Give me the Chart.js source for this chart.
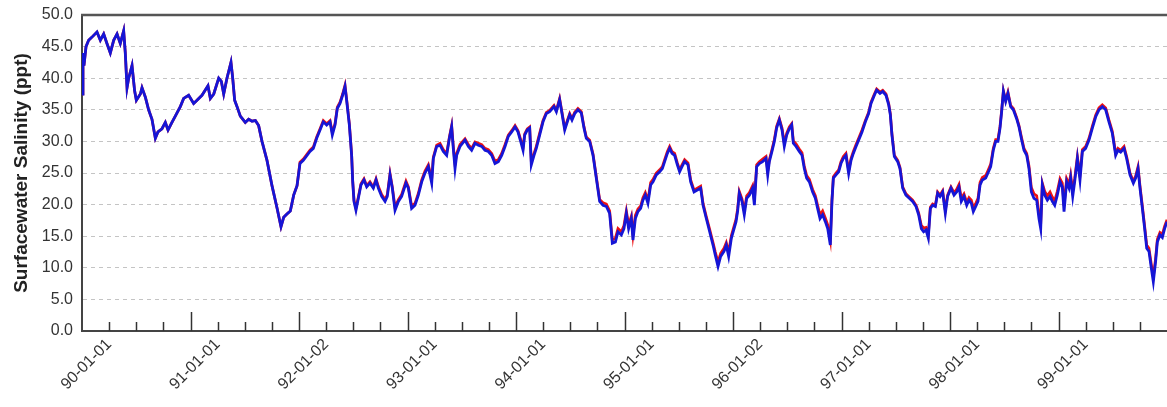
<!DOCTYPE html>
<html lang="en">
<head>
    <meta charset="UTF-8">
    <title>Surfacewater Salinity</title>
    <script src="https://cdn.jsdelivr.net/npm/chart.js"></script>
    <style>
        body { margin: 0; background: #fff; }
        canvas { display: block; }
    </style>
</head>
<body>
    <canvas id="salinityChart" width="1167" height="407"></canvas>

    <script>
        // time in years since 1990-01-01
        const yearsSince1990 = [
            0.000, 0.009, 0.018, 0.037, 0.061, 0.092, 0.138, 0.169, 0.200, 0.230,
            0.261, 0.292, 0.323, 0.353, 0.384, 0.399, 0.415, 0.430, 0.461, 0.485,
            0.501, 0.538, 0.553, 0.584, 0.614, 0.645, 0.676, 0.700, 0.737, 0.768,
            0.793, 0.829, 0.860, 0.906, 0.937, 0.983, 1.029, 1.060, 1.106, 1.161,
            1.183, 1.214, 1.260, 1.284, 1.306, 1.336, 1.373, 1.389, 1.407, 1.429,
            1.459, 1.505, 1.536, 1.567, 1.598, 1.628, 1.659, 1.705, 1.751, 1.797,
            1.834, 1.859, 1.889, 1.920, 1.951, 1.982,
            2.009, 2.040, 2.101, 2.132, 2.163, 2.194, 2.224, 2.255, 2.286, 2.307,
            2.332, 2.353, 2.378, 2.402, 2.424, 2.439, 2.464, 2.485, 2.495, 2.507,
            2.525, 2.547, 2.571, 2.599, 2.624, 2.654, 2.685, 2.710, 2.731, 2.762,
            2.793, 2.814, 2.839, 2.860, 2.885, 2.916, 2.946, 2.986, 3.008, 3.038,
            3.069, 3.100, 3.131, 3.161, 3.192, 3.223, 3.238, 3.269, 3.300, 3.330,
            3.361, 3.386, 3.407, 3.422, 3.438, 3.453, 3.484, 3.530, 3.561, 3.591,
            3.622, 3.653, 3.684, 3.714, 3.745, 3.776, 3.806, 3.837, 3.868, 3.899,
            3.929, 3.960, 3.991, 4.018, 4.043, 4.065, 4.080, 4.104, 4.126, 4.141,
            4.166, 4.187, 4.218, 4.249, 4.280, 4.310, 4.350, 4.372, 4.402, 4.418,
            4.449, 4.473, 4.495, 4.516, 4.541, 4.571, 4.602, 4.627, 4.648, 4.679,
            4.710, 4.740, 4.771, 4.802, 4.833, 4.863, 4.888, 4.916, 4.940, 4.971,
            4.995, 5.017, 5.038, 5.063, 5.078, 5.100, 5.124, 5.149, 5.170, 5.192,
            5.216, 5.241, 5.263, 5.293, 5.324, 5.349, 5.370, 5.395, 5.416, 5.438,
            5.462, 5.487, 5.508, 5.530, 5.554, 5.585, 5.610, 5.641, 5.671, 5.702,
            5.724, 5.754, 5.785, 5.816, 5.837, 5.862, 5.886, 5.917, 5.938, 5.960,
            5.985, 6.028, 6.043, 6.058, 6.083, 6.104, 6.126, 6.151, 6.181, 6.197,
            6.218, 6.243, 6.273, 6.304, 6.320, 6.335, 6.359, 6.381, 6.402, 6.427,
            6.452, 6.473, 6.495, 6.519, 6.541, 6.556, 6.581, 6.611, 6.636, 6.657,
            6.679, 6.704, 6.734, 6.759, 6.780, 6.802, 6.826, 6.851, 6.873, 6.897,
            6.912, 6.925, 6.949, 6.974, 6.995, 7.017, 7.041, 7.066, 7.088, 7.109,
            7.134, 7.158, 7.189, 7.220, 7.250, 7.272, 7.303, 7.324, 7.355, 7.380,
            7.410, 7.435, 7.450, 7.465, 7.487, 7.518, 7.539, 7.564, 7.594, 7.625,
            7.656, 7.687, 7.711, 7.736, 7.757, 7.779, 7.800, 7.819, 7.840, 7.865,
            7.886, 7.908, 7.932, 7.957, 7.978, 8.009, 8.037, 8.061, 8.083, 8.104,
            8.129, 8.154, 8.175, 8.197, 8.215, 8.237, 8.258, 8.277, 8.298, 8.329,
            8.350, 8.375, 8.399, 8.421, 8.442, 8.461, 8.476, 8.492, 8.513, 8.534,
            8.559, 8.584, 8.614, 8.636, 8.657, 8.682, 8.707, 8.728, 8.750, 8.774,
            8.799, 8.820, 8.836, 8.851, 8.873, 8.897, 8.922, 8.943, 8.965, 8.989,
            9.014, 9.035, 9.051, 9.075, 9.097, 9.112, 9.131, 9.149, 9.174, 9.198,
            9.220, 9.250, 9.281, 9.312, 9.343, 9.373, 9.404, 9.435, 9.465, 9.496,
            9.527, 9.548, 9.573, 9.604, 9.628, 9.659, 9.690, 9.711, 9.733, 9.751,
            9.773, 9.794, 9.813, 9.834, 9.856, 9.874, 9.895, 9.911, 9.935, 9.957,
            9.978, 10.000
        ];

        // blue series (ppt)
        const salinityBlue = [
            37.5, 44, 42, 45, 46, 46.5, 47.3, 46, 47, 45.5,
            44, 46, 47, 45.5, 47.5, 44, 38.5, 40, 42, 38,
            36.5, 37.5, 38.5, 37, 35, 33.5, 30.5, 31.5, 32, 33,
            31.8, 33, 34, 35.5, 36.8, 37.3, 36, 36.5, 37.3, 38.8,
            36.8, 37.5, 40, 39.5, 37.5, 40, 42.5, 40, 36.5, 35.5,
            34, 33, 33.5, 33.2, 33.3, 32.5, 30, 27, 23, 19.5,
            16.5, 18, 18.5, 19, 21.5, 23,
            26.5, 27, 28.4, 28.9, 30.5, 31.8, 33.1, 32.6, 33.1, 31,
            32.6, 35.2, 36, 37.3, 38.7, 36.5, 32.6, 27.8, 23.6, 20.5,
            19.1, 21, 23.1, 23.9, 22.8, 23.4, 22.6, 23.9, 22.6, 21.3,
            20.5, 21.3, 24.7, 22.6, 19.1, 20.5, 21.3, 23.4, 22.6, 19.4,
            19.9, 21.5, 23.6, 25, 26, 23.4, 27.3, 29.2, 29.4, 28.4,
            27.8, 30.5, 32.3, 28.9, 25.7, 27.8, 29.2, 30.2, 29.2, 28.6,
            29.7, 29.4, 29.2, 28.6, 28.4, 27.8, 26.5, 26.8, 27.8, 29.2,
            30.8, 31.5, 32.3, 31.5, 30, 28.6, 31, 31.8, 32.1, 26.3,
            27.8, 28.9, 31, 33.1, 34.4, 34.7, 35.5, 34.7, 36.6, 35,
            31.8, 33.1, 34.2, 33.4, 34.4, 35, 34.5, 32.1, 30.5, 30,
            27.8, 24.2, 20.5, 19.9, 19.7, 18.6, 13.9, 14.1, 15.7, 15.2,
            16.2, 18.6, 16.2, 17.8, 14.4, 17.8, 18.9, 19.4, 20.7, 21.5,
            20.2, 23.1, 23.6, 24.7, 25.2, 25.7, 26.8, 28.1, 28.9, 28.1,
            27.8, 26.3, 25.2, 26, 26.8, 26.3, 23.6, 22, 22.3, 22.6,
            19.9, 17.8, 15.7, 13.6, 12, 10.2, 11.8, 12.6, 13.6, 11.8,
            14.7, 17.3, 19, 21.8, 20.5, 18.4, 21, 21.5, 22.6, 19.9,
            26, 26.5, 26.8, 27.3, 24.7, 26.8, 28.4, 30, 32.1, 33.4,
            31.8, 29.2, 31, 32, 32.6, 29.7, 29.2, 28.4, 27.8, 25.7,
            24.2, 23.6, 22, 21, 19.4, 17.8, 18.4, 17.3, 16.2, 13.6,
            20.5, 24.2, 24.7, 25.2, 26.5, 27.3, 27.8, 24.9, 27, 28.1,
            29.2, 30.2, 31.5, 33.1, 34.4, 36, 37.3, 38.1, 37.6, 37.9,
            37.3, 35.8, 34.2, 31, 27.6, 26.8, 25.7, 22.6, 21.5, 21,
            20.5, 19.7, 18.4, 16.2, 15.7, 16, 14.7, 19.4, 19.9, 19.7,
            21.8, 21.3, 22, 18.6, 21.3, 22.6, 21.5, 22, 22.8, 20.5,
            21.3, 19.9, 20.7, 20.2, 18.9, 19.7, 20.5, 23.1, 23.9, 24.2,
            25, 26, 28.6, 30, 30, 32.1, 34.7, 37.9, 36.3, 37.6,
            35.5, 35, 33.6, 32.3, 30.5, 28.6, 27.8, 25.7, 22, 21,
            20.7, 17.8, 16.2, 23.1, 21.5, 20.7, 21.3, 20.5, 19.9, 21.5,
            23.6, 22.8, 18.9, 23.6, 22.6, 24.2, 21.3, 23.6, 27.3, 23.9,
            28.4, 28.9, 30.2, 32.1, 33.9, 35, 35.5, 35, 33.1, 31.3,
            27.8, 28.6, 28.3, 28.9, 27.3, 24.7, 23.4, 24.2, 25.7, 22.6,
            19.4, 16.2, 13.1, 12.6, 9.9, 7.8, 11, 14.1, 15.2, 14.8,
            16.2, 17.3
        ];

        // red series (ppt), sits just above the blue one from 1992 on
        const salinityRed = [
            37.5, 44, 42, 45, 46, 46.5, 47.3, 46, 47, 45.5,
            44, 46, 47, 45.5, 47.5, 44, 38.5, 40, 42, 38,
            36.5, 37.5, 38.5, 37, 35, 33.5, 30.5, 31.5, 32, 33,
            31.8, 33, 34, 35.5, 36.8, 37.3, 36, 36.5, 37.3, 38.8,
            36.8, 37.5, 40, 39.5, 37.5, 40, 42.5, 40, 36.5, 35.5,
            34, 33, 33.5, 33.2, 33.3, 32.5, 30, 27, 23, 19.5,
            16.5, 18, 18.5, 19, 21.5, 23,
            26.7, 27.2, 28.6, 29.1, 30.7, 32, 33.3, 32.8, 33.3, 31.4,
            32.8, 35.4, 36.2, 37.5, 38.9, 36.7, 32.8, 28, 23.8, 20.7,
            19.4, 21.2, 23.3, 24.1, 23, 23.6, 22.8, 24.1, 22.9, 21.6,
            20.8, 21.6, 24.9, 22.8, 19.6, 20.8, 21.6, 23.7, 22.8, 19.8,
            20.2, 21.8, 23.9, 25.3, 26.3, 24, 27.5, 29.4, 29.7, 28.7,
            28.1, 30.7, 32.5, 29.3, 26.4, 28.1, 29.5, 30.4, 29.5, 28.9,
            29.9, 29.7, 29.5, 28.9, 28.7, 28.1, 26.9, 27.1, 28.1, 29.5,
            31, 31.7, 32.5, 31.7, 30.3, 29, 31.2, 32, 32.3, 26.8,
            28.1, 29.2, 31.3, 33.3, 34.6, 34.9, 35.7, 34.9, 36.8, 35.2,
            32.1, 33.3, 34.4, 33.6, 34.6, 35.2, 34.7, 32.3, 30.7, 30.2,
            28, 24.4, 20.8, 20.3, 20.1, 19, 14.4, 14.7, 16.2, 15.7,
            16.7, 19, 16.8, 18.2, 15.2, 18.3, 19.3, 19.8, 21.1, 21.9,
            20.7, 23.5, 24, 25, 25.5, 26, 27.1, 28.4, 29.2, 28.4,
            28.1, 26.6, 25.5, 26.3, 27.1, 26.6, 23.9, 22.3, 22.6, 22.9,
            20.2, 18.1, 16.1, 14, 12.5, 10.9, 12.3, 13.1, 14, 12.5,
            15.1, 17.7, 19.4, 22.1, 20.9, 19, 21.4, 21.9, 23, 20.6,
            26.3, 26.8, 27.2, 27.6, 25.3, 27.1, 28.7, 30.3, 32.4, 33.6,
            32.1, 29.7, 31.3, 32.3, 32.8, 30.1, 29.6, 28.8, 28.2, 26.1,
            24.6, 24, 22.4, 21.4, 19.9, 18.4, 19, 17.9, 16.8, 14.4,
            20.8, 24.4, 25, 25.5, 26.8, 27.6, 28.1, 25.4, 27.3, 28.4,
            29.5, 30.5, 31.8, 33.3, 34.6, 36.2, 37.5, 38.3, 37.8, 38.1,
            37.5, 36, 34.4, 31.2, 27.8, 27, 25.9, 22.8, 21.7, 21.2,
            20.7, 19.9, 18.7, 16.7, 16.3, 16.4, 15.2, 19.6, 20.1, 19.9,
            22, 21.5, 22.2, 19.1, 21.5, 22.8, 21.9, 22.4, 23.2, 21,
            21.7, 20.4, 21.1, 20.7, 19.5, 20.2, 21, 23.5, 24.3, 24.6,
            25.4, 26.4, 28.9, 30.3, 30.3, 32.4, 34.9, 38, 36.5, 37.8,
            35.7, 35.2, 33.8, 32.5, 30.8, 28.9, 28.1, 26.1, 22.7, 21.7,
            21.4, 18.6, 17, 23.4, 22.1, 21.4, 22, 21.2, 20.6, 22.1,
            24.1, 23.4, 19.8, 24.1, 23.2, 24.7, 22.1, 24.1, 27.6, 24.6,
            28.7, 29.2, 30.5, 32.4, 34.2, 35.3, 35.8, 35.3, 33.4, 31.6,
            28.1, 28.9, 28.6, 29.2, 27.6, 25, 23.7, 24.5, 26, 23,
            19.8, 16.6, 13.6, 13.1, 10.5, 8.6, 11.5, 14.5, 15.6, 15.3,
            16.6, 17.6
        ];

        const xTickLabels = ['90-01-01', '91-01-01', '92-01-02', '93-01-01', '94-01-01',
                             '95-01-01', '96-01-02', '97-01-01', '98-01-01', '99-01-01'];

        const fontFamily = "'Liberation Sans', Arial, Helvetica, sans-serif";

        // quarter positions along the 10-year axis
        const quarterTicks = [];
        for (let i = 0; i <= 40; i++) quarterTicks.push(i / 4);

        // short upward tick marks and the frame line on top
        const frameAndTicks = {
            id: 'frameAndTicks',
            afterDatasetsDraw(chart) {
                const { ctx, chartArea, scales } = chart;
                ctx.save();
                ctx.strokeStyle = '#333';
                ctx.lineWidth = 1.5;
                quarterTicks.forEach((v, i) => {
                    if (i === 0 || i === quarterTicks.length - 1) return;
                    const x = Math.round(scales.x.getPixelForValue(v)) + 0.5;
                    const len = i % 4 === 0 ? 19 : 9;
                    ctx.beginPath();
                    ctx.moveTo(x, chartArea.bottom);
                    ctx.lineTo(x, chartArea.bottom - len);
                    ctx.stroke();
                });
                ctx.strokeStyle = '#555';
                ctx.lineWidth = 2.5;
                ctx.beginPath();
                ctx.moveTo(chartArea.left - 1, chartArea.top);
                ctx.lineTo(chartArea.right, chartArea.top);
                ctx.stroke();
                ctx.restore();
            }
        };

        const toPoints = values => values.map((v, i) => ({ x: yearsSince1990[i], y: v }));

        new Chart(document.getElementById('salinityChart').getContext('2d'), {
            type: 'line',
            data: {
                datasets: [
                    {
                        label: 'Blue',
                        data: toPoints(salinityBlue),
                        borderColor: '#1515d6',
                        borderWidth: 2.8,
                        pointRadius: 0,
                        tension: 0,
                        fill: false
                    },
                    {
                        label: 'Red',
                        data: toPoints(salinityRed),
                        borderColor: '#ee1111',
                        borderWidth: 2.7,
                        pointRadius: 0,
                        tension: 0,
                        fill: false
                    }
                ]
            },
            options: {
                responsive: false,
                animation: false,
                devicePixelRatio: 1,
                layout: { padding: { top: 15, right: 0, left: 0, bottom: 0 } },
                plugins: {
                    legend: { display: false },
                    tooltip: { enabled: false }
                },
                scales: {
                    x: {
                        type: 'linear',
                        min: 0,
                        max: 10,
                        afterBuildTicks: scale => {
                            scale.ticks = quarterTicks.map(v => ({ value: v }));
                        },
                        afterFit: scale => {
                            scale.height = 76;
                            scale.paddingLeft = 0;
                            scale.paddingRight = 0;
                        },
                        grid: { display: false },
                        border: { display: true, color: '#444', width: 2 },
                        ticks: {
                            autoSkip: false,
                            minRotation: 45,
                            maxRotation: 45,
                            padding: -4,
                            color: '#333',
                            font: { family: fontFamily, size: 16 },
                            callback: (value, index) => index % 4 === 1 ? xTickLabels[(index - 1) / 4] : ''
                        }
                    },
                    y: {
                        min: 0,
                        max: 50,
                        afterFit: scale => {
                            scale.width = 82;
                            scale.paddingTop = 0;
                            scale.paddingBottom = 0;
                        },
                        grid: {
                            drawTicks: false,
                            lineWidth: 1,
                            color: ctx => ctx.tick && ctx.tick.value % 5 === 0 ? '#c4c4c4' : '#d2d2d2'
                        },
                        border: {
                            display: true,
                            color: '#444',
                            width: 2,
                            dash: ctx => ctx.tick && ctx.tick.value % 5 === 0 ? [4, 4] : [1, 3]
                        },
                        ticks: {
                            stepSize: 2.5,
                            padding: 9,
                            color: '#333',
                            font: { family: fontFamily, size: 16 },
                            callback: value => value % 5 === 0 ? value.toFixed(1) : ''
                        },
                        title: {
                            display: true,
                            text: 'Surfacewater Salinity (ppt)',
                            color: '#222',
                            padding: { top: 10, bottom: 0 },
                            font: { family: fontFamily, size: 19, weight: 'bold' }
                        }
                    }
                }
            },
            plugins: [frameAndTicks]
        });
    </script>
</body>
</html>
